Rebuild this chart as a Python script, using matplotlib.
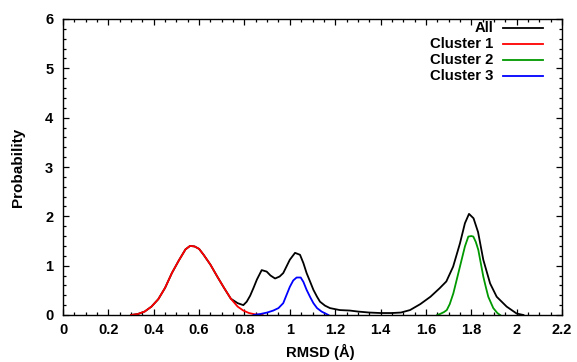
import matplotlib
matplotlib.use("Agg")
import matplotlib.pyplot as plt
from matplotlib.ticker import MultipleLocator

plt.rcParams['font.family'] = ['Liberation Sans', 'DejaVu Sans']

# ---- data ----
all_x = [0.30,0.33,0.36,0.39,0.42,0.45,0.48,0.51,0.54,0.56,0.58,0.60,0.62,0.65,0.68,0.71,0.74,0.77,0.795,0.81,0.825,0.84,0.855,0.876,0.898,0.915,0.935,0.955,0.971,0.985,1.00,1.023,1.045,1.06,1.074,1.09,1.104,1.12,1.133,1.155,1.177,1.22,1.265,1.30,1.35,1.40,1.45,1.49,1.53,1.575,1.62,1.66,1.69,1.72,1.75,1.772,1.79,1.81,1.83,1.853,1.883,1.912,1.956,2.00,2.03]
all_y = [0.00,0.02,0.07,0.17,0.32,0.55,0.85,1.10,1.33,1.40,1.39,1.34,1.22,1.02,0.78,0.55,0.33,0.24,0.20,0.27,0.39,0.55,0.72,0.91,0.88,0.80,0.74,0.78,0.85,0.98,1.12,1.26,1.22,1.05,0.85,0.67,0.51,0.37,0.27,0.19,0.14,0.10,0.09,0.07,0.05,0.04,0.04,0.05,0.10,0.22,0.37,0.54,0.68,0.98,1.45,1.86,2.05,1.96,1.68,1.12,0.64,0.37,0.17,0.03,0.00]

c1_x = [0.30,0.33,0.36,0.39,0.42,0.45,0.48,0.51,0.54,0.56,0.58,0.60,0.62,0.65,0.68,0.71,0.74,0.77,0.795,0.82,0.85,0.88]
c1_y = [0.00,0.02,0.07,0.17,0.32,0.55,0.85,1.10,1.33,1.40,1.39,1.34,1.22,1.02,0.78,0.55,0.33,0.17,0.09,0.04,0.01,0.00]

c2_x = [1.65,1.662,1.68,1.692,1.705,1.721,1.735,1.75,1.772,1.787,1.80,1.809,1.82,1.831,1.842,1.853,1.865,1.875,1.897,1.915,1.927]
c2_y = [0.00,0.02,0.06,0.10,0.22,0.44,0.70,0.98,1.39,1.59,1.60,1.59,1.48,1.32,1.05,0.78,0.55,0.37,0.14,0.04,0.00]

c3_x = [0.84,0.87,0.90,0.927,0.95,0.971,0.985,1.00,1.015,1.03,1.048,1.06,1.074,1.09,1.104,1.12,1.14,1.17]
c3_y = [0.00,0.02,0.05,0.09,0.14,0.24,0.40,0.57,0.70,0.76,0.76,0.67,0.51,0.36,0.24,0.14,0.07,0.00]

series_labels = ["All", "Cluster 1", "Cluster 2", "Cluster 3"]
series_colors = ["#000000", "#ff0000", "#009900", "#0000ff"]

x_ticks = [0, 0.2, 0.4, 0.6, 0.8, 1, 1.2, 1.4, 1.6, 1.8, 2, 2.2]
x_ticklabels = ["0", "0.2", "0.4", "0.6", "0.8", "1", "1.2", "1.4", "1.6", "1.8", "2", "2.2"]
y_ticks = [0, 1, 2, 3, 4, 5, 6]

fig = plt.figure(figsize=(5.77, 3.62), dpi=100)
ax = fig.add_axes([63/577, 1 - 315/362, (562-63)/577, (315-19)/362])

data = [(all_x, all_y), (c1_x, c1_y), (c2_x, c2_y), (c3_x, c3_y)]
for (xs, ys), col in zip(data, series_colors):
    ax.plot(xs, ys, color=col, lw=1.3)

ax.set_xlim(0, 2.2)
ax.set_ylim(0, 6)
ax.set_xticks(x_ticks)
ax.set_xticklabels(x_ticklabels)
ax.set_yticks(y_ticks)
ax.xaxis.set_minor_locator(MultipleLocator(0.05))
ax.yaxis.set_minor_locator(MultipleLocator(0.2))
ax.tick_params(which='both', direction='in', top=True, right=True, width=0.9)
ax.tick_params(which='major', length=4, labelsize=10.5)
ax.tick_params(axis='x', which='major', pad=6)
ax.tick_params(axis='y', which='major', pad=7)
ax.tick_params(which='minor', length=2)
for lab in ax.get_xticklabels() + ax.get_yticklabels():
    lab.set_fontweight('bold')
for s in ax.spines.values():
    s.set_linewidth(1.0)

ax.set_xlabel("RMSD (Å)", fontsize=10.7, fontweight='bold')
ax.set_ylabel("Probability", fontsize=11, fontweight='bold')
ax.xaxis.set_label_coords((320-63)/499, -(352-315)/296, transform=ax.transAxes)
ax.yaxis.set_label_coords(-(63-18)/499, 0.5, transform=ax.transAxes)
ax.xaxis.label.set_va('center')
ax.yaxis.label.set_va('center')

# legend (gnuplot style: right-aligned text, sample line to the right)
leg_rows = [0.970, 0.916, 0.861, 0.807]
for lab, col, yy in zip(series_labels, series_colors, leg_rows):
    ax.text(0.862, yy, lab, transform=ax.transAxes, ha='right', va='center',
            fontsize=10.7, fontweight='bold')
    ax.plot([0.882, 0.962], [yy, yy], transform=ax.transAxes, color=col, lw=1.3,
            clip_on=False)

fig.savefig("out.png", dpi=100)
